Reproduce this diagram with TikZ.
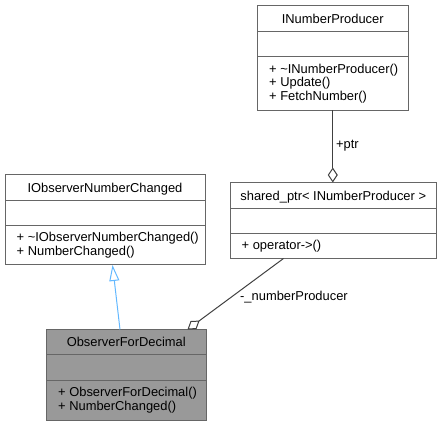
\documentclass[tikz,border=0pt]{standalone}
\usepackage{fontspec}
\setmainfont{Liberation Sans}
\usetikzlibrary{arrows.meta,calc}
\definecolor{boxline}{HTML}{666666}
\definecolor{aggline}{HTML}{404040}
\definecolor{inhline}{HTML}{63B8FF}
\definecolor{mainfill}{HTML}{999999}
\newcommand{\dxfont}{\fontsize{12.9}{13.5}\selectfont}
\begin{document}
\begin{tikzpicture}[x=1pt,y=-1pt,
  cls/.style={draw=boxline, line width=1pt, fill=white, rectangle, inner sep=0pt, outer sep=0pt, anchor=north west},
  mainbox/.style={cls, fill=mainfill},
  ctitle/.style={anchor=base, inner sep=0pt, font=\dxfont},
  member/.style={anchor=base west, inner sep=0pt, font=\dxfont},
  elabel/.style={anchor=base west, inner sep=0pt, font=\dxfont},
  divider/.style={draw=boxline, line width=1pt},
  agg/.style={draw=aggline, line width=1pt, -{Diamond[open, length=15pt, width=10pt, line width=1pt]}},
  inh/.style={draw=inhline, line width=1pt, -{Triangle[open, length=16pt, width=10pt, line width=1pt]}}
]
\useasboundingbox (0,0) rectangle (442,427);

% INumberProducer
\node[cls, minimum width=150.5pt, minimum height=105pt] (inp) at (257.5,5.5) {};
\node[ctitle] (inpT) at (332.75,23.2) {INumberProducer};
\draw[divider] (inp.west |- 0,31.5) -- (inp.east |- 0,31.5);
\draw[divider] (inp.west |- 0,57) -- (inp.east |- 0,57);
\node[member] (inpM1) at (269,73.2) {+ \textasciitilde INumberProducer()};
\node[member] (inpM2) at (269,86.7) {+ Update()};
\node[member] (inpM3) at (269,100.2) {+ FetchNumber()};

% IObserverNumberChanged
\node[cls, minimum width=200pt, minimum height=90pt] (iobs) at (5,175) {};
\node[ctitle] (iobsT) at (105,192.5) {IObserverNumberChanged};
\draw[divider] (iobs.west |- 0,200.5) -- (iobs.east |- 0,200.5);
\draw[divider] (iobs.west |- 0,225.5) -- (iobs.east |- 0,225.5);
\node[member] (iobsM1) at (16.5,241.7) {+ \textasciitilde IObserverNumberChanged()};
\node[member] (iobsM2) at (16.5,255.2) {+ NumberChanged()};

% shared_ptr< INumberProducer >
\node[cls, minimum width=206.5pt, minimum height=76pt] (sp) at (230,182.5) {};
\node[ctitle] (spT) at (333.25,200.2) {shared\_ptr< INumberProducer >};
\draw[divider] (sp.west |- 0,208.5) -- (sp.east |- 0,208.5);
\draw[divider] (sp.west |- 0,233.5) -- (sp.east |- 0,233.5);
\node[member] (spM1) at (241.5,249.7) {+ operator->()};

% ObserverForDecimal
\node[mainbox, minimum width=159.5pt, minimum height=91pt] (ofd) at (46.5,329.5) {};
\node[ctitle] (ofdT) at (126.25,347) {ObserverForDecimal};
\draw[divider] (ofd.west |- 0,355) -- (ofd.east |- 0,355);
\draw[divider] (ofd.west |- 0,380.5) -- (ofd.east |- 0,380.5);
\node[member] (ofdM1) at (58,396.7) {+ ObserverForDecimal()};
\node[member] (ofdM2) at (58,410.2) {+ NumberChanged()};

% connectors
\draw[agg] (inp.south) -- (inp.south |- sp.north);
\node[elabel] (lptr) at (336,148.5) {+ptr};

\draw[agg] ([xshift=53.5pt]sp.south west) -- ([xshift=141pt]ofd.north west);
\node[elabel] (lnp) at (240,300.5) {-\_numberProducer};

\draw[inh] ([xshift=73.5pt]ofd.north west) -- ([xshift=107.5pt]iobs.south west);
\end{tikzpicture}
\end{document}
